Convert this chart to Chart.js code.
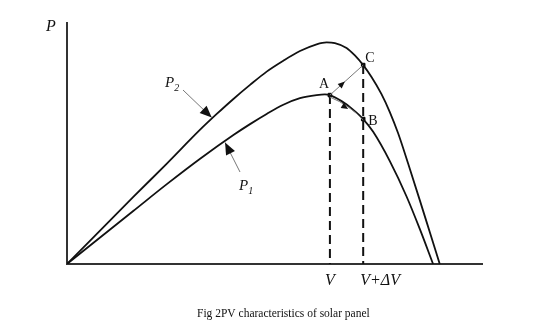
<!DOCTYPE html>
<html>
<head>
<meta charset="utf-8">
<script src="https://cdn.jsdelivr.net/npm/chart.js@4"></script>
<style>
  html, body { margin: 0; padding: 0; background: #fff; }
  canvas { display: block; }
</style>
</head>
<body>
<canvas id="pvChart" width="550" height="324"></canvas>
<script>
// curve P1 (lower irradiance)
const voltsP1 = [0, 4, 6, 8, 10, 11, 12, 13, 14, 15, 15.5, 15.8, 16.5, 17.1, 17.8, 18.4, 19.4, 20.4, 21.2, 22.0];
const powerP1 = [0, 22, 33, 43.5, 53.3, 57.8, 62, 65.8, 68.5, 69.8, 70.1, 69.8, 67.3, 64.3, 59.9, 54.6, 42.5, 28, 14.5, 0];

// curve P2 (higher irradiance)
const voltsP2 = [0, 4, 6, 8, 9, 10, 11, 12, 13, 14, 15, 15.6, 16.1, 16.8, 17.3, 17.8, 18.3, 18.9, 19.4, 19.9, 20.5, 21.2, 21.8, 22.4];
const powerP2 = [0, 27.8, 41.5, 55.5, 62, 68.2, 74, 79.5, 84, 88, 90.8, 91.6, 91.3, 89.3, 86.2, 82.2, 77.3, 70.2, 62.8, 54, 41.5, 26.4, 13.2, 0];

// operating points
const pointNames = ['A', 'B', 'C'];
const pointV = [15.8, 17.8, 17.8];
const pointP = [69.8, 59.9, 82.2];

// voltage marks on the axis
const markV = [15.8, 17.8];
const markText = ['V', 'V+\u0394V'];

const caption = 'Fig 2PV characteristics of solar panel';

const toXY = (xs, ys) => xs.map((x, i) => ({ x: x, y: ys[i] }));

const drawHead = (ctx, x, y, angle, len, half) => {
    ctx.save();
    ctx.translate(x, y);
    ctx.rotate(angle);
    ctx.beginPath();
    ctx.moveTo(0, 0);
    ctx.lineTo(-len, -half);
    ctx.lineTo(-len, half);
    ctx.closePath();
    ctx.fill();
    ctx.restore();
};

const drawLabel = (ctx, main, sub, x, y) => {
    ctx.font = 'italic 15px "Liberation Serif"';
    ctx.fillText(main, x, y);
    const w = ctx.measureText(main).width;
    ctx.font = 'italic 10px "Liberation Serif"';
    ctx.fillText(sub, x + w, y + 4);
};

const figurePlugin = {
    id: 'figure',
    beforeDatasetsDraw(chart) {
        const { ctx, chartArea: a } = chart;
        ctx.save();
        ctx.strokeStyle = '#333';
        ctx.lineWidth = 2;
        ctx.beginPath();
        ctx.moveTo(a.left, a.top);
        ctx.lineTo(a.left, a.bottom);
        ctx.lineTo(a.right, a.bottom);
        ctx.stroke();
        ctx.restore();
    },
    afterDatasetsDraw(chart) {
        const { ctx } = chart;
        const xs = chart.scales.x, ys = chart.scales.y;
        const px = v => xs.getPixelForValue(v);
        const py = p => ys.getPixelForValue(p);
        ctx.save();
        ctx.fillStyle = '#111';
        ctx.textBaseline = 'alphabetic';

        // axis title
        ctx.font = 'italic 16px "Liberation Serif"';
        ctx.fillText('P', 46, 31);

        // P2 pointer
        const t2x = px(8.7), t2y = py(60.5);
        ctx.strokeStyle = '#777';
        ctx.lineWidth = 1;
        ctx.beginPath();
        ctx.moveTo(183, 90);
        ctx.lineTo(t2x, t2y);
        ctx.stroke();
        drawHead(ctx, t2x, t2y, Math.atan2(t2y - 90, t2x - 183), 12, 5);
        drawLabel(ctx, 'P', '2', 165, 87);

        // P1 pointer
        const t1x = px(9.5), t1y = py(50.2);
        ctx.beginPath();
        ctx.moveTo(240, 172);
        ctx.lineTo(t1x, t1y);
        ctx.stroke();
        drawHead(ctx, t1x, t1y, Math.atan2(t1y - 172, t1x - 240), 12, 5);
        drawLabel(ctx, 'P', '1', 239, 190);

        // A -> C and A -> B moves
        const ax = px(pointV[0]), ay = py(pointP[0]);
        const bx = px(pointV[1]), by = py(pointP[1]);
        const cx = px(pointV[2]), cy = py(pointP[2]);
        ctx.strokeStyle = '#777';
        ctx.beginPath();
        ctx.moveTo(ax, ay);
        ctx.lineTo(cx, cy);
        ctx.stroke();
        const mx = ax + (cx - ax) * 0.45, my = ay + (cy - ay) * 0.45;
        drawHead(ctx, mx, my, Math.atan2(cy - ay, cx - ax), 7, 3);

        const qx = (ax + bx) / 2 + 3, qy = (ay + by) / 2 - 4;
        ctx.beginPath();
        ctx.moveTo(ax, ay + 2);
        ctx.quadraticCurveTo(qx, qy + 2, bx, by + 1);
        ctx.stroke();
        drawHead(ctx, ax + (bx - ax) * 0.55, ay + (by - ay) * 0.5 + 2, 0.55, 7, 3);

        // point letters
        ctx.fillStyle = '#111';
        ctx.font = '14px "Liberation Serif"';
        ctx.fillText(pointNames[0], ax - 11, ay - 7);
        ctx.fillText(pointNames[1], bx + 5, by + 6);
        ctx.fillText(pointNames[2], cx + 2, cy - 3);

        // voltage marks
        ctx.font = 'italic 16px "Liberation Serif"';
        ctx.textAlign = 'center';
        ctx.fillText(markText[0], px(markV[0]), 285);
        ctx.textAlign = 'left';
        ctx.fillText(markText[1], px(markV[1]) - 3, 285);

        // caption
        ctx.font = '11.5px "Liberation Serif"';
        ctx.textAlign = 'left';
        ctx.fillText(caption, 197, 317);
        ctx.restore();
    }
};

const curveStyle = {
    showLine: true,
    borderColor: '#111',
    borderWidth: 1.8,
    pointRadius: 0,
    cubicInterpolationMode: 'monotone',
    fill: false
};

new Chart(document.getElementById('pvChart'), {
    type: 'scatter',
    data: {
        datasets: [
            Object.assign({ label: 'P1', data: toXY(voltsP1, powerP1) }, curveStyle),
            Object.assign({ label: 'P2', data: toXY(voltsP2, powerP2) }, curveStyle),
            {
                label: 'V',
                data: [{ x: markV[0], y: pointP[0] }, { x: markV[0], y: 0 }],
                showLine: true,
                borderColor: '#111',
                borderWidth: 2,
                borderDash: [9, 5],
                pointRadius: 0
            },
            {
                label: 'V+dV',
                data: [{ x: markV[1], y: pointP[2] }, { x: markV[1], y: 0 }],
                showLine: true,
                borderColor: '#111',
                borderWidth: 2,
                borderDash: [9, 5],
                pointRadius: 0
            },
            {
                label: 'points',
                data: toXY(pointV, pointP),
                pointStyle: 'rect',
                pointRadius: 2.5,
                backgroundColor: '#000',
                borderColor: '#000'
            }
        ]
    },
    options: {
        responsive: false,
        animation: false,
        devicePixelRatio: 1,
        layout: { padding: { left: 67, top: 22, right: 67, bottom: 60 } },
        plugins: { legend: { display: false }, tooltip: { enabled: false } },
        scales: {
            x: { type: 'linear', min: 0, max: 25, display: false },
            y: { min: 0, max: 100, display: false }
        }
    },
    plugins: [figurePlugin]
});
</script>
</body>
</html>
